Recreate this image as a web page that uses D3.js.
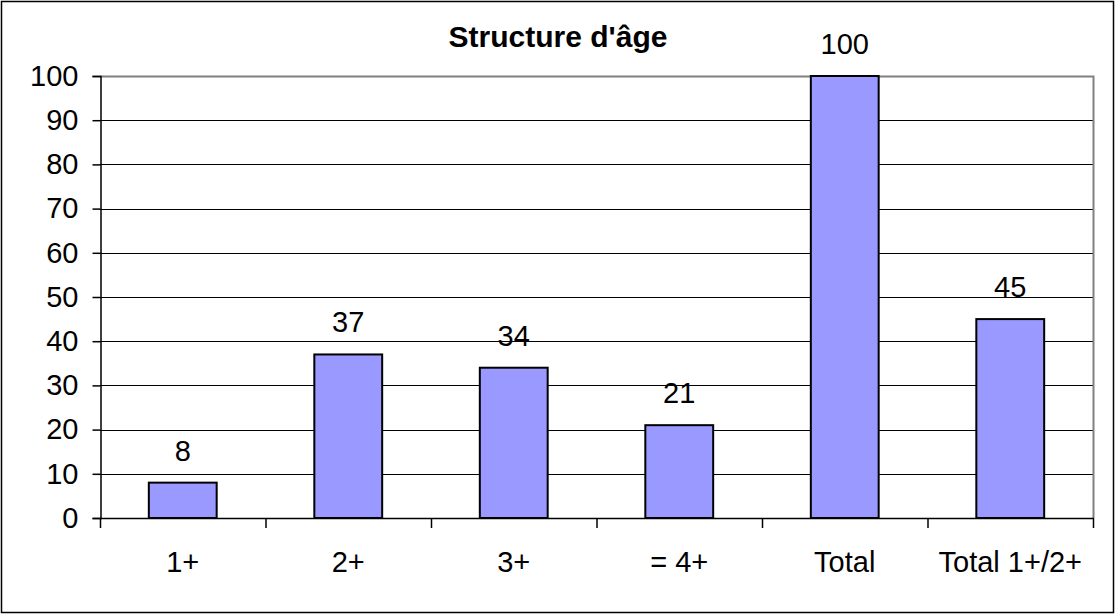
<!DOCTYPE html>
<html>
<head>
<meta charset="utf-8">
<script src="https://cdn.jsdelivr.net/npm/d3@7"></script>
<style>
  body { margin: 0; background: #fff; }
  text { font-family: "Liberation Sans", Arial, sans-serif; }
</style>
</head>
<body>
<svg id="chart" width="1115" height="614"></svg>
<script>
// data
var categories = ["1+", "2+", "3+", "= 4+", "Total", "Total 1+/2+"];
var values = [8, 37, 34, 21, 100, 45];
var yTicks = [0, 10, 20, 30, 40, 50, 60, 70, 80, 90, 100];
var title = "Structure d'âge";

var width = 1115, height = 614;
var plotLeft = 100, plotRight = 1093, plotTop = 76, plotBottom = 518;
var fontSize = 29;

var svg = d3.select('#chart');

// outer frame
svg.append('rect')
  .attr('x', 1.5).attr('y', 1.5)
  .attr('width', width - 3).attr('height', height - 3)
  .attr('fill', '#fff')
  .attr('stroke', '#000')
  .attr('stroke-width', 1.5);

var x = d3.scaleBand()
  .domain(categories)
  .range([plotLeft, plotRight])
  .paddingInner(0.59)
  .paddingOuter(0.295);

var band = d3.scaleBand().domain(categories).range([plotLeft, plotRight]);

var y = d3.scaleLinear().domain([0, 100]).range([plotBottom, plotTop]);

// gridlines
svg.append('g')
  .selectAll('line')
  .data(yTicks.filter(function (d) { return d > 0 && d < 100; }))
  .enter()
  .append('line')
  .attr('x1', plotLeft).attr('x2', plotRight)
  .attr('y1', function (d) { return Math.round(y(d)) + 0.5; })
  .attr('y2', function (d) { return Math.round(y(d)) + 0.5; })
  .attr('stroke', '#000')
  .attr('stroke-width', 1);

// plot area border (grey, top and right)
svg.append('path')
  .attr('d', 'M' + plotLeft + ',' + (plotTop + 0.5) + 'H' + (plotRight + 0.5) + 'V' + plotBottom)
  .attr('fill', 'none')
  .attr('stroke', '#808080')
  .attr('stroke-width', 2);

// bars
svg.append('g')
  .selectAll('rect')
  .data(values)
  .enter()
  .append('rect')
  .attr('x', function (d, i) { return x(categories[i]); })
  .attr('y', function (d) { return y(d); })
  .attr('width', x.bandwidth())
  .attr('height', function (d) { return y(0) - y(d); })
  .attr('fill', '#9999FF')
  .attr('stroke', '#000')
  .attr('stroke-width', 2);

// value labels
svg.append('g')
  .selectAll('text')
  .data(values)
  .enter()
  .append('text')
  .attr('x', function (d, i) { return x(categories[i]) + x.bandwidth() / 2; })
  .attr('y', function (d) { return y(d) - 22; })
  .attr('text-anchor', 'middle')
  .attr('font-size', fontSize)
  .text(function (d) { return d; });

// y axis
var yAxis = d3.axisLeft(y).tickValues(yTicks).tickSize(8).tickPadding(14);
var gy = svg.append('g')
  .attr('transform', 'translate(' + (plotLeft + 0.5) + ',0)')
  .call(yAxis);
gy.selectAll('text').attr('font-size', fontSize).attr('font-family', '"Liberation Sans", Arial, sans-serif').attr('fill', '#000');
gy.selectAll('line').attr('stroke', '#000').attr('stroke-width', 1.5);
gy.select('.domain').attr('stroke', '#000').attr('stroke-width', 1.5);

// x axis: ticks at band boundaries
var gx = svg.append('g');
gx.append('line')
  .attr('x1', plotLeft).attr('x2', plotRight + 1)
  .attr('y1', plotBottom + 0.5).attr('y2', plotBottom + 0.5)
  .attr('stroke', '#000').attr('stroke-width', 1.5);
var bounds = categories.map(function (c) { return band(c); }).concat([plotRight]);
gx.selectAll('.tk')
  .data(bounds)
  .enter()
  .append('line')
  .attr('class', 'tk')
  .attr('x1', function (d) { return d + 0.5; })
  .attr('x2', function (d) { return d + 0.5; })
  .attr('y1', plotBottom).attr('y2', plotBottom + 10)
  .attr('stroke', '#000').attr('stroke-width', 1.5);
gx.selectAll('.lbl')
  .data(categories)
  .enter()
  .append('text')
  .attr('class', 'lbl')
  .attr('x', function (d) { return band(d) + band.bandwidth() / 2; })
  .attr('y', 572)
  .attr('text-anchor', 'middle')
  .attr('font-size', fontSize)
  .text(function (d) { return d; });

// title
svg.append('text')
  .attr('x', 558)
  .attr('y', 47)
  .attr('text-anchor', 'middle')
  .attr('font-size', 30)
  .attr('font-weight', 'bold')
  .text(title);
</script>
</body>
</html>
